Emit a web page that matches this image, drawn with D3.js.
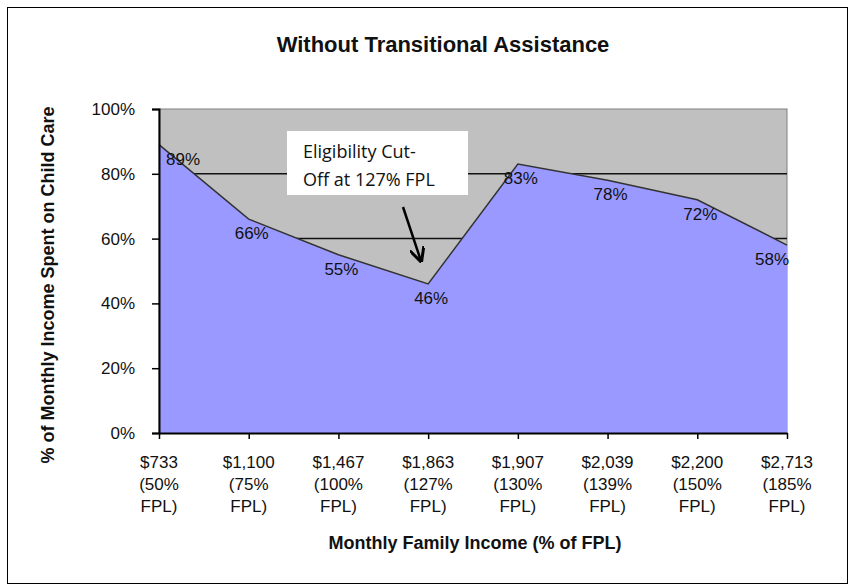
<!DOCTYPE html>
<html lang="en">
<head>
  <meta charset="UTF-8">
  <title>Without Transitional Assistance</title>
  <style>
    body { margin: 0; background: #fff; }
    text { font-family: "Liberation Sans", Arial, sans-serif; fill: #111; }
  </style>
</head>
<body>
  <script src="https://cdn.jsdelivr.net/npm/d3@7/dist/d3.min.js"></script>
  <script>
    // data
    let incomes = ['$733', '$1,100', '$1,467', '$1,863', '$1,907', '$2,039', '$2,200', '$2,713'];
    let fplPct = ['50%', '75%', '100%', '127%', '130%', '139%', '150%', '185%'];
    let shares = [89, 66, 55, 46, 83, 78, 72, 58];
    let yTicks = [0, 20, 40, 60, 80, 100];
    let gridValues = [20, 40, 60, 80];

    let width = 854;
    let height = 588;
    let svg = d3.select('body')
                .append('svg')
                .attr('width', width)
                .attr('height', height);

    // outer frame
    svg.append('rect')
       .attr('x', 7.5).attr('y', 7.5)
       .attr('width', 840).attr('height', 576)
       .attr('fill', '#fff')
       .attr('stroke', '#000')
       .attr('stroke-width', 1);

    let plotL = 159, plotR = 787, plotT = 109, plotB = 433;

    let x = d3.scalePoint()
              .domain(incomes)
              .range([plotL, plotR])
              .padding(0);
    let y = d3.scaleLinear()
              .domain([0, 100])
              .range([plotB, plotT]);

    // plot background
    svg.append('rect')
       .attr('x', plotL).attr('y', plotT)
       .attr('width', plotR - plotL).attr('height', plotB - plotT)
       .attr('fill', '#c0c0c0')
       .attr('stroke', '#808080')
       .attr('stroke-width', 1);

    // gridlines
    svg.append('g')
       .selectAll('line')
       .data(gridValues)
       .enter()
       .append('line')
       .attr('x1', plotL).attr('x2', plotR)
       .attr('y1', d => y(d)).attr('y2', d => y(d))
       .attr('stroke', '#111')
       .attr('stroke-width', 1.5);

    // area
    let area = d3.area()
                 .x((d, i) => x(incomes[i]))
                 .y0(plotB)
                 .y1(d => y(d));
    svg.append('path')
       .datum(shares)
       .attr('d', area)
       .attr('fill', '#9999ff');

    let line = d3.line()
                 .x((d, i) => x(incomes[i]))
                 .y(d => y(d));
    svg.append('path')
       .datum(shares)
       .attr('d', line)
       .attr('fill', 'none')
       .attr('stroke', '#333')
       .attr('stroke-width', 1.5);

    // axes
    let yAxis = d3.axisLeft(y)
                  .tickValues(yTicks)
                  .tickSize(7)
                  .tickPadding(17)
                  .tickFormat(d => d + '%');
    let gy = svg.append('g')
                .attr('transform', `translate(${plotL}, 0)`)
                .call(yAxis);
    gy.select('.domain').attr('stroke', '#000').attr('stroke-width', 2);
    gy.selectAll('.tick line').attr('stroke', '#000').attr('stroke-width', 1.5);
    gy.selectAll('.tick text')
      .style('font-family', '"Liberation Sans", Arial, sans-serif')
      .style('font-size', '17px')
      .attr('fill', '#111');

    let xAxis = d3.axisBottom(x)
                  .tickSize(6)
                  .tickSizeOuter(0)
                  .tickFormat('');
    let gx = svg.append('g')
                .attr('transform', `translate(0, ${plotB})`)
                .call(xAxis);
    gx.select('.domain').attr('stroke', '#000').attr('stroke-width', 2);
    gx.selectAll('.tick line').attr('stroke', '#000').attr('stroke-width', 1.5);
    gx.selectAll('.tick text').remove();

    let tickLabels = svg.append('g')
                        .selectAll('text')
                        .data(incomes)
                        .enter()
                        .append('text')
                        .attr('text-anchor', 'middle')
                        .style('font-size', '17px');
    tickLabels.each(function(d, i) {
      let t = d3.select(this);
      let lines = [d, '(' + fplPct[i], 'FPL)'];
      lines.forEach((s, k) => {
        t.append('tspan')
         .attr('x', x(d))
         .attr('y', 468 + k * 22)
         .text(s);
      });
    });

    // data labels
    svg.append('g')
       .selectAll('text')
       .data(shares)
       .enter()
       .append('text')
       .attr('text-anchor', 'middle')
       .attr('x', (d, i) => Math.min(Math.max(x(incomes[i]) + 3, plotL + 24), plotR - 15))
       .attr('y', d => y(d) + 20)
       .style('font-size', '17px')
       .text(d => d + '%');

    // titles
    svg.append('text')
       .attr('x', 443).attr('y', 52)
       .attr('text-anchor', 'middle')
       .style('font-size', '22px')
       .style('font-weight', 'bold')
       .text('Without Transitional  Assistance');

    svg.append('text')
       .attr('x', 475).attr('y', 549)
       .attr('text-anchor', 'middle')
       .style('font-size', '18px')
       .style('font-weight', 'bold')
       .text('Monthly Family Income (% of FPL)');

    svg.append('text')
       .attr('transform', 'translate(54, 285) rotate(-90)')
       .attr('text-anchor', 'middle')
       .style('font-size', '18px')
       .style('font-weight', 'bold')
       .text('% of Monthly Income Spent on Child Care');

    // annotation
    svg.append('rect')
       .attr('x', 287).attr('y', 131)
       .attr('width', 181).attr('height', 64)
       .attr('fill', '#fff');
    let note = svg.append('text')
                  .style('font-family', '"Open Sans", sans-serif')
                  .style('font-size', '18px');
    note.append('tspan').attr('x', 303).attr('y', 158).text('Eligibility Cut-');
    note.append('tspan').attr('x', 303).attr('y', 186).text('Off at 127% FPL');

    svg.append('defs').append('marker')
       .attr('id', 'head')
       .attr('viewBox', '0 0 10 10')
       .attr('refX', 9).attr('refY', 5)
       .attr('markerWidth', 6).attr('markerHeight', 6)
       .attr('orient', 'auto')
       .append('path')
       .attr('d', 'M0,0 L10,5 L0,10')
       .attr('fill', 'none')
       .attr('stroke', '#000')
       .attr('stroke-width', 2);
    svg.append('line')
       .attr('x1', 403).attr('y1', 207)
       .attr('x2', 421).attr('y2', 261)
       .attr('stroke', '#000')
       .attr('stroke-width', 2.5)
       .attr('marker-end', 'url(#head)');
  </script>
</body>
</html>
